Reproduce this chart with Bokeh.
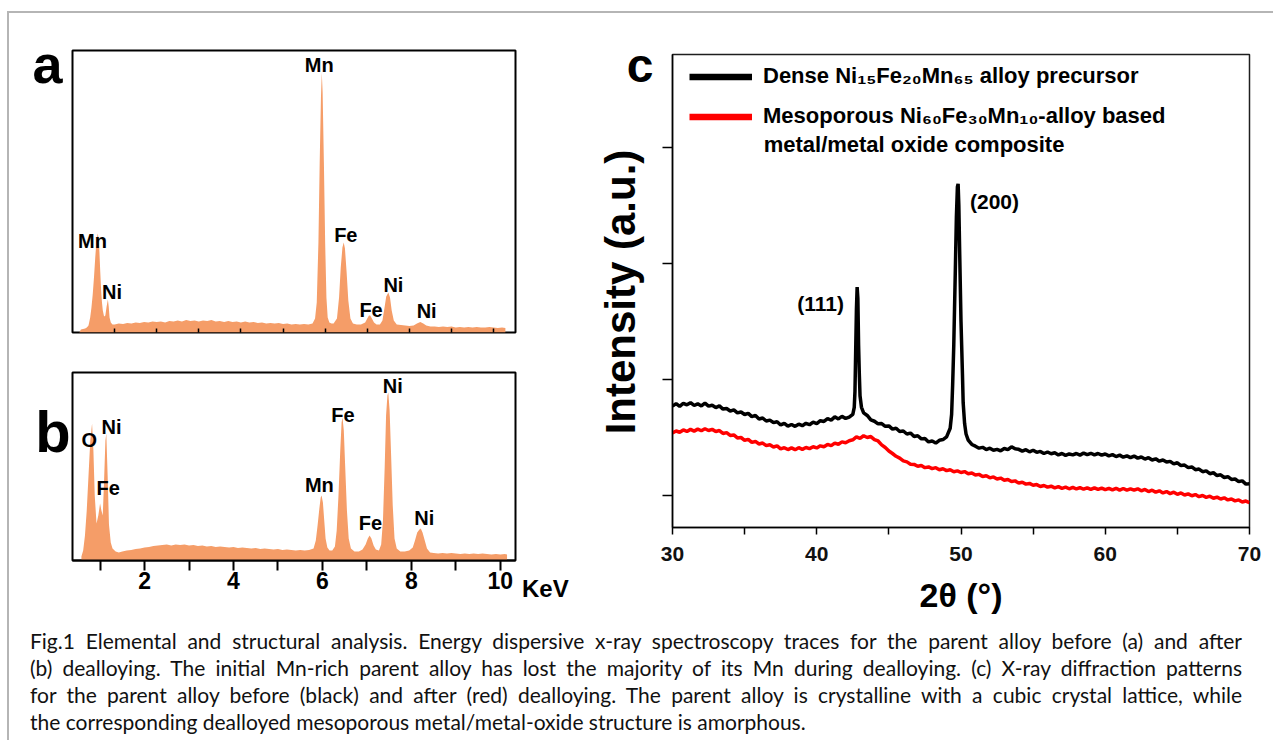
from bokeh.embed import file_html
from bokeh.layouts import column, row
from bokeh.models import (Div, FixedTicker, Label, Legend, LegendItem,
                          LinearAxis, Range1d)
from bokeh.plotting import figure
from bokeh.resources import INLINE

# ---------------------------------------------------------------------------
# (a) EDS spectrum of the dense parent alloy: energy (keV) / counts (a.u.)
# ---------------------------------------------------------------------------
eds_a_kev = [
    0.16, 0.20, 0.25, 0.30, 0.34, 0.38, 0.42, 0.45, 0.48, 0.51, 0.54, 0.57,
    0.60, 0.62, 0.64, 0.66, 0.68, 0.70, 0.72, 0.75, 0.78, 0.81, 0.84, 0.86,
    0.88, 0.91, 0.95, 1.00, 1.10, 1.20, 1.30, 1.40, 1.50, 1.60, 1.70, 1.80,
    1.90, 2.00, 2.10, 2.20, 2.30, 2.40, 2.50, 2.60, 2.70, 2.80, 2.90, 3.00,
    3.10, 3.20, 3.30, 3.40, 3.50, 3.60, 3.70, 3.80, 3.90, 4.00, 4.10, 4.20,
    4.30, 4.40, 4.50, 4.60, 4.70, 4.80, 4.90, 5.00, 5.10, 5.20, 5.30, 5.40,
    5.50, 5.60, 5.70, 5.76, 5.80, 5.84, 5.87, 5.90, 5.92, 5.94, 5.97, 6.00,
    6.03, 6.06, 6.10, 6.15, 6.20, 6.28, 6.33, 6.37, 6.41, 6.44, 6.47, 6.51,
    6.55, 6.60, 6.66, 6.75, 6.85, 6.95, 7.00, 7.04, 7.07, 7.11, 7.16, 7.22,
    7.30, 7.36, 7.41, 7.45, 7.50, 7.54, 7.58, 7.63, 7.70, 7.80, 7.90, 8.00,
    8.10, 8.18, 8.26, 8.33, 8.40, 8.50, 8.60, 8.70, 8.80, 8.90, 9.00, 9.10,
    9.20, 9.30, 9.40, 9.50, 9.60, 9.70, 9.80, 9.90, 10.00, 10.10, 10.20, 10.28,
]
eds_a_counts = [
    0, 3, 3.5, 4, 5, 7, 15, 25, 38, 55, 75, 92,
    99, 94, 80, 60, 42, 30, 22, 16, 17, 26, 33, 26,
    15, 10, 8, 8, 9, 8.5, 9.5, 9, 10, 9.5, 10.5, 10,
    11, 10.5, 11, 10, 11.5, 11, 12, 11, 12.5, 11.5, 12, 11,
    12, 11.5, 12.5, 11, 11.5, 10.5, 11.5, 10.5, 11, 10, 11, 10,
    10.5, 9.5, 10, 9, 9.5, 9, 9.5, 8.5, 9, 8, 8.5, 8,
    8.5, 8, 9, 14, 30, 90, 170, 235, 260, 240, 170, 90,
    35, 15, 10, 9, 9, 14, 35, 65, 85, 90, 84, 60,
    32, 14, 9, 8, 8, 10, 14, 17, 17, 14, 10, 8,
    8, 12, 25, 36, 40, 35, 22, 12, 8, 7.5, 7, 6.5,
    7, 9, 10.5, 9, 7, 6, 6, 5.5, 6, 5.5, 6, 5,
    5.5, 5, 5.5, 5, 5.5, 5, 5, 5.5, 5, 4.5, 5, 4.5,
]

# ---------------------------------------------------------------------------
# (b) EDS spectrum after dealloying
# ---------------------------------------------------------------------------
eds_b_kev = [
    0.58, 0.62, 0.66, 0.70, 0.74, 0.78, 0.82, 0.85, 0.88, 0.92, 0.96, 1.00,
    1.03, 1.06, 1.09, 1.12, 1.14, 1.17, 1.20, 1.24, 1.28, 1.35, 1.42, 1.50,
    1.60, 1.70, 1.80, 1.90, 2.00, 2.10, 2.20, 2.30, 2.40, 2.50, 2.60, 2.70,
    2.80, 2.90, 3.00, 3.10, 3.20, 3.30, 3.40, 3.50, 3.60, 3.70, 3.80, 3.90,
    4.00, 4.10, 4.20, 4.30, 4.40, 4.50, 4.60, 4.70, 4.80, 4.90, 5.00, 5.10,
    5.20, 5.30, 5.40, 5.50, 5.60, 5.70, 5.80, 5.85, 5.89, 5.93, 5.96, 5.98,
    6.01, 6.04, 6.07, 6.11, 6.16, 6.22, 6.28, 6.32, 6.36, 6.40, 6.43, 6.45,
    6.48, 6.51, 6.55, 6.59, 6.64, 6.72, 6.82, 6.90, 6.97, 7.02, 7.06, 7.10,
    7.15, 7.20, 7.27, 7.32, 7.36, 7.40, 7.43, 7.46, 7.48, 7.51, 7.54, 7.58,
    7.62, 7.67, 7.75, 7.85, 7.95, 8.03, 8.08, 8.13, 8.18, 8.21, 8.25, 8.30,
    8.35, 8.42, 8.50, 8.60, 8.70, 8.80, 8.90, 9.00, 9.10, 9.20, 9.30, 9.40,
    9.50, 9.60, 9.70, 9.80, 9.90, 10.00, 10.10, 10.15,
]
eds_b_counts = [
    4, 10, 25, 50, 85, 120, 137, 110, 65, 37, 45, 57,
    50, 45, 80, 120, 127, 85, 36, 18, 12, 9, 8, 9,
    10, 10.5, 11.5, 12, 13, 13.5, 14.5, 15, 15.5, 16, 15, 16,
    15.5, 16, 15, 15.5, 14.5, 15, 14, 14.5, 13.5, 14, 13.5, 13,
    13.5, 12.5, 13, 12.5, 12, 12.5, 11.5, 12, 11.5, 11, 11.5, 10.5,
    11, 10.5, 10, 10.5, 10, 10.5, 12, 20, 35, 52, 63, 65,
    58, 40, 22, 13, 10, 10, 14, 30, 65, 110, 138, 143,
    130, 95, 50, 22, 12, 9, 9, 11, 16, 22, 25, 22,
    15, 11, 10, 16, 40, 95, 145, 165, 168, 150, 110, 55,
    22, 12, 9, 9, 10, 13, 20, 28, 31, 32, 28, 20,
    12, 8, 7.5, 7, 7.5, 7, 7.5, 7, 6.5, 7, 6.5, 7,
    6.5, 7, 6.5, 6, 6.5, 6, 6.5, 6,
]

# ---------------------------------------------------------------------------
# (c) XRD patterns: 0.25 deg scan plus finer points across the Bragg peaks
# ---------------------------------------------------------------------------
two_theta = [
    30.00, 30.25, 30.50, 30.75, 31.00, 31.25, 31.50, 31.75,
    32.00, 32.25, 32.50, 32.75, 33.00, 33.25, 33.50, 33.75,
    34.00, 34.25, 34.50, 34.75, 35.00, 35.25, 35.50, 35.75,
    36.00, 36.25, 36.50, 36.75, 37.00, 37.25, 37.50, 37.75,
    38.00, 38.25, 38.50, 38.75, 39.00, 39.25, 39.50, 39.75,
    40.00, 40.25, 40.50, 40.75, 41.00, 41.25, 41.50, 41.75,
    42.00, 42.25, 42.50, 42.75, 43.00, 43.25, 43.50, 43.75,
    44.00, 44.25, 44.50, 44.75, 45.00, 45.25, 45.50, 45.75,
    46.00, 46.25, 46.50, 46.75, 47.00, 47.25, 47.50, 47.75,
    48.00, 48.25, 48.50, 48.75, 49.00, 49.25, 49.50, 49.75,
    50.00, 50.25, 50.50, 50.75, 51.00, 51.25, 51.50, 51.75,
    52.00, 52.25, 52.50, 52.75, 53.00, 53.25, 53.50, 53.75,
    54.00, 54.25, 54.50, 54.75, 55.00, 55.25, 55.50, 55.75,
    56.00, 56.25, 56.50, 56.75, 57.00, 57.25, 57.50, 57.75,
    58.00, 58.25, 58.50, 58.75, 59.00, 59.25, 59.50, 59.75,
    60.00, 60.25, 60.50, 60.75, 61.00, 61.25, 61.50, 61.75,
    62.00, 62.25, 62.50, 62.75, 63.00, 63.25, 63.50, 63.75,
    64.00, 64.25, 64.50, 64.75, 65.00, 65.25, 65.50, 65.75,
    66.00, 66.25, 66.50, 66.75, 67.00, 67.25, 67.50, 67.75,
    68.00, 68.25, 68.50, 68.75, 69.00, 69.25, 69.50, 69.75,
    70.00,
]
dense_intensity = [
    1770, 1792, 1768, 1795, 1782, 1800, 1776, 1790,
    1772, 1796, 1770, 1778, 1758, 1772, 1745, 1750,
    1728, 1738, 1712, 1720, 1698, 1708, 1680, 1690,
    1660, 1668, 1642, 1650, 1628, 1636, 1608, 1622,
    1598, 1612, 1596, 1615, 1602, 1622, 1610, 1632,
    1620, 1645, 1638, 1662, 1650, 1678, 1660, 1682,
    1664, 1676, 1700, 2600, 1860, 1712, 1690, 1652,
    1640, 1618, 1620, 1596, 1600, 1572, 1580, 1552,
    1556, 1530, 1538, 1508, 1515, 1488, 1492, 1462,
    1470, 1452, 1476, 1482, 1505, 1580, 2300, 3660,
    2500, 1620, 1478, 1440, 1425, 1408, 1415, 1396,
    1408, 1390, 1398, 1385, 1405, 1395, 1420, 1402,
    1398, 1382, 1395, 1376, 1390, 1372, 1380, 1362,
    1375, 1360, 1368, 1350, 1362, 1346, 1358, 1350,
    1362, 1348, 1366, 1352, 1364, 1350, 1362, 1348,
    1358, 1342, 1352, 1336, 1348, 1330, 1342, 1326,
    1340, 1322, 1332, 1314, 1326, 1306, 1316, 1296,
    1306, 1288, 1294, 1272, 1282, 1258, 1262, 1240,
    1246, 1222, 1228, 1205, 1212, 1188, 1196, 1172,
    1178, 1155, 1162, 1138, 1142, 1120, 1126, 1098,
    1102,
]
dense_peak_theta = [42.60, 42.65, 42.70, 42.80, 42.85, 42.90, 42.95, 43.10,
                    49.35, 49.42, 49.60, 49.68, 49.80, 49.85, 49.90, 50.10,
                    50.15, 50.35]
dense_peak_intensity = [1760, 1900, 2250, 2796, 2700, 2300, 2050, 1760,
                        1700, 1950, 2900, 3400, 3687, 3500, 3150, 2050,
                        1800, 1530]
meso_intensity = [
    1540, 1556, 1545, 1565, 1552, 1570, 1555, 1572,
    1558, 1575, 1560, 1570, 1552, 1560, 1535, 1542,
    1518, 1522, 1496, 1500, 1476, 1484, 1458, 1466,
    1444, 1452, 1430, 1438, 1418, 1428, 1402, 1412,
    1396, 1410, 1395, 1412, 1398, 1414, 1404, 1420,
    1410, 1428, 1420, 1440, 1430, 1452, 1442, 1462,
    1455, 1472, 1480, 1505, 1492, 1515, 1500, 1508,
    1482, 1470, 1436, 1414, 1384, 1362, 1338, 1322,
    1298, 1290, 1270, 1268, 1252, 1258, 1240, 1246,
    1232, 1240, 1222, 1230, 1214, 1222, 1205, 1212,
    1198, 1206, 1188, 1194, 1176, 1182, 1164, 1170,
    1152, 1160, 1142, 1150, 1132, 1138, 1120, 1126,
    1108, 1114, 1098, 1104, 1088, 1094, 1078, 1086,
    1072, 1080, 1066, 1076, 1062, 1072, 1058, 1070,
    1056, 1068, 1054, 1066, 1052, 1066, 1052, 1064,
    1050, 1062, 1048, 1062, 1046, 1060, 1046, 1058,
    1046, 1058, 1040, 1052, 1034, 1046, 1028, 1040,
    1022, 1034, 1016, 1028, 1010, 1022, 1004, 1014,
    998, 1008, 990, 1000, 984, 994, 976, 986,
    970, 980, 962, 970, 954, 962, 944, 952,
    938,
]

# peak tags: (text, keV, counts)
eds_a_tags = [("Mn", 0.475, 92), ("Ni", 0.94, 41), ("Mn", 5.86, 268),
              ("Fe", 6.49, 97.5), ("Fe", 7.09, 22.5), ("Ni", 7.62, 47.5),
              ("Ni", 8.41, 22)]
eds_b_tags = [("O", 0.757, 121), ("Ni", 1.258, 133.5), ("Fe", 1.18, 73),
              ("Mn", 5.93, 76), ("Fe", 6.46, 146), ("Ni", 7.58, 174.5),
              ("Fe", 7.08, 37.5), ("Ni", 8.29, 42.5)]

CAPTION_LINES = [
    "Fig.1 Elemental and structural analysis. Energy dispersive x-ray spectroscopy traces for the parent alloy before (a) and after",
    "(b) dealloying. The initial Mn-rich parent alloy has lost the majority of its Mn during dealloying. (c) X-ray diffraction patterns",
    "for the parent alloy before (black) and after (red) dealloying. The parent alloy is crystalline with a cubic crystal lattice, while",
    "the corresponding dealloyed mesoporous metal/metal-oxide structure is amorphous.",
]

FONT = "Liberation Sans"
EDS_FILL = "#F59D68"
NAN = float("nan")


def merged(xs_a, ys_a, xs_b, ys_b):
    pts = sorted(zip(list(xs_a) + list(xs_b), list(ys_a) + list(ys_b)))
    return [p[0] for p in pts], [p[1] for p in pts]


def bold_label(p, text, x, y, size, align="center", baseline="middle"):
    p.add_layout(Label(x=x, y=y, text=text, text_font=FONT, text_font_size=size,
                       text_font_style="bold", text_color="black",
                       text_align=align, text_baseline=baseline))


def span(text, x, y, size, anchor="center", rotate=False):
    shift = "translate(-50%,-50%)" if anchor == "center" else "translate(0,-50%)"
    if rotate:
        shift += " rotate(-90deg)"
    return (f'<span style="position:absolute;left:{x}px;top:{y}px;'
            f"font-family:'{FONT}';font-weight:bold;font-size:{size}px;"
            f'line-height:{size}px;white-space:nowrap;color:#000;transform:{shift};">'
            f"{text}</span>")


def text_box(width, height, spans):
    html = (f'<div style="position:relative;width:{width}px;height:{height}px;">'
            + "".join(spans) + "</div>")
    return Div(text=html, width=width, height=height, margin=(0, 0, 0, 0))


def eds_panel(frame_h, top, bottom, right, x0, x1, y1):
    p = figure(frame_width=443, frame_height=frame_h,
               min_border_left=4, min_border_right=right,
               min_border_top=top, min_border_bottom=bottom,
               x_range=Range1d(x0, x1), y_range=Range1d(0, y1),
               x_axis_location=None, y_axis_location=None,
               toolbar_location=None, output_backend="svg")
    p.grid.visible = False
    p.outline_line_color = "black"
    p.outline_line_width = 2
    p.border_fill_color = "white"
    p.background_fill_color = "white"
    return p


# ---- panel a ----
pa = eds_panel(282, 37, 20, 75, 0.0, 10.52, 282)
pa.varea(x=eds_a_kev, y1=0, y2=eds_a_counts, fill_color=EDS_FILL)
ax_a = LinearAxis(ticker=FixedTicker(ticks=list(range(1, 11)), minor_ticks=[]),
                  major_tick_in=4, major_tick_out=0, axis_line_color=None,
                  major_tick_line_color="black", major_tick_line_width=1.5,
                  major_label_text_color=None, major_label_text_font_size="0px")
pa.add_layout(ax_a, "below")
for t, x, y in eds_a_tags:
    bold_label(pa, t, x, y, "20px")

# ---- panel b ----
pb = eds_panel(188, 20, 60, 6, 0.38, 10.34, 188)
pb.varea(x=eds_b_kev, y1=0, y2=eds_b_counts, fill_color=EDS_FILL)
ax_b = LinearAxis(ticker=FixedTicker(ticks=[2, 4, 6, 8, 10], minor_ticks=[1, 3, 5, 7, 9]),
                  major_tick_in=0, major_tick_out=10, minor_tick_in=0, minor_tick_out=10,
                  major_tick_line_width=2, minor_tick_line_width=2,
                  axis_line_width=2, major_label_standoff=1,
                  major_label_text_font=FONT, major_label_text_font_style="bold",
                  major_label_text_font_size="23px", major_label_text_color="black")
pb.add_layout(ax_b, "below")
for t, x, y in eds_b_tags:
    bold_label(pb, t, x, y, "20px")

# ---- panel c ----
pc = figure(frame_width=577, frame_height=473,
            min_border_left=18, min_border_right=24,
            min_border_top=41, min_border_bottom=93,
            x_range=Range1d(30, 70), y_range=Range1d(724, 4802),
            x_axis_location=None, y_axis_location=None,
            toolbar_location=None, output_backend="svg")
pc.grid.visible = False
pc.outline_line_color = "#1e1e1e"
pc.outline_line_width = 1.5
pc.border_fill_color = "white"

dense_x, dense_y = merged(two_theta, dense_intensity, dense_peak_theta, dense_peak_intensity)
pc.line(two_theta, meso_intensity, line_color="#FF0000", line_width=3.5)
pc.line(dense_x, dense_y, line_color="black", line_width=3.5)

ax_c = LinearAxis(ticker=FixedTicker(ticks=[30, 40, 50, 60, 70], minor_ticks=[35, 45, 55, 65]),
                  major_tick_in=0, major_tick_out=7, minor_tick_in=0, minor_tick_out=7,
                  axis_line_width=1.5, major_tick_line_width=1.5, minor_tick_line_width=1.5,
                  major_label_standoff=12, major_label_text_font=FONT,
                  major_label_text_font_style="bold", major_label_text_font_size="21px",
                  major_label_text_color="#111111",
                  axis_label="2\u03b8 (\u00b0)", axis_label_standoff=12,
                  axis_label_text_font=FONT, axis_label_text_font_style="bold",
                  axis_label_text_font_size="34px", axis_label_text_color="black")
pc.add_layout(ax_c, "below")
ay_c = LinearAxis(ticker=FixedTicker(ticks=[1000, 2000, 3000, 4000], minor_ticks=[]),
                  major_tick_in=0, major_tick_out=10, axis_line_width=1.5,
                  major_tick_line_width=1.5, major_label_text_color=None,
                  major_label_text_font_size="0px")
pc.add_layout(ay_c, "left")

# thick legend keys
key_dense = pc.line(x=[NAN], y=[NAN], line_color="black", line_width=6.5)
key_meso = pc.line(x=[NAN], y=[NAN], line_color="#FF0000", line_width=6.5)
legend = Legend(items=[LegendItem(label="Dense Ni\u2081\u2085Fe\u2082\u2080Mn\u2086\u2085 alloy precursor",
                                  renderers=[key_dense]),
                       LegendItem(label="Mesoporous Ni\u2086\u2080Fe\u2083\u2080Mn\u2081\u2080-alloy based",
                                  renderers=[key_meso])],
                location=(17, 398), glyph_width=63, glyph_height=25, label_height=25,
                label_standoff=11, spacing=14, padding=0, margin=0,
                label_text_font=FONT, label_text_font_style="bold",
                label_text_font_size="22px", label_text_color="black",
                border_line_color=None, background_fill_alpha=0)
pc.add_layout(legend)
bold_label(pc, "metal/metal oxide composite", 36.32, 4030, "22px", align="left")

bold_label(pc, "(111)", 40.27, 2655, "21px")
bold_label(pc, "(200)", 52.32, 3534, "21px")

# ---- texts sitting beside the frames ----
div_a = text_box(59, 339, [span("a", 38.5, 51.3, 54)])
div_b = text_box(59, 268, [span("b", 44, 79.9, 58)])
div_kev = text_box(69, 268, [span("KeV", 1, 237, 24, anchor="left")])
div_c = text_box(64, 607, [span("c", 50, 53.4, 48),
                           span("Intensity (a.u.)", 31, 279, 42, rotate=True)])

# ---- caption ----
rows_html = []
for i, line in enumerate(CAPTION_LINES):
    if i == len(CAPTION_LINES) - 1:
        style = "text-align:left;white-space:nowrap;"
    else:
        style = "text-align:justify;text-align-last:justify;white-space:nowrap;"
    rows_html.append(f'<div style="{style}">{line}</div>')
caption_html = ('<div style="width:1233px;padding:7px 0 0 21px;font-family:Lato, sans-serif;'
                'font-size:21px;line-height:27px;color:#111111;">' + "".join(rows_html) + "</div>")
caption = Div(text=caption_html, width=1264, height=120, margin=(0, 0, 0, 0))

left_col = column(row(div_a, pa), row(div_b, pb, div_kev))
right_col = row(div_c, pc)
root = column(row(left_col, right_col), caption, margin=(11, 0, 0, 7),
              styles={"border-top": "2px solid #b5b5b5", "border-left": "2px solid #b5b5b5"})

with open("out.html", "w") as f:
    f.write(file_html(root, INLINE, title="Elemental and structural analysis"))
